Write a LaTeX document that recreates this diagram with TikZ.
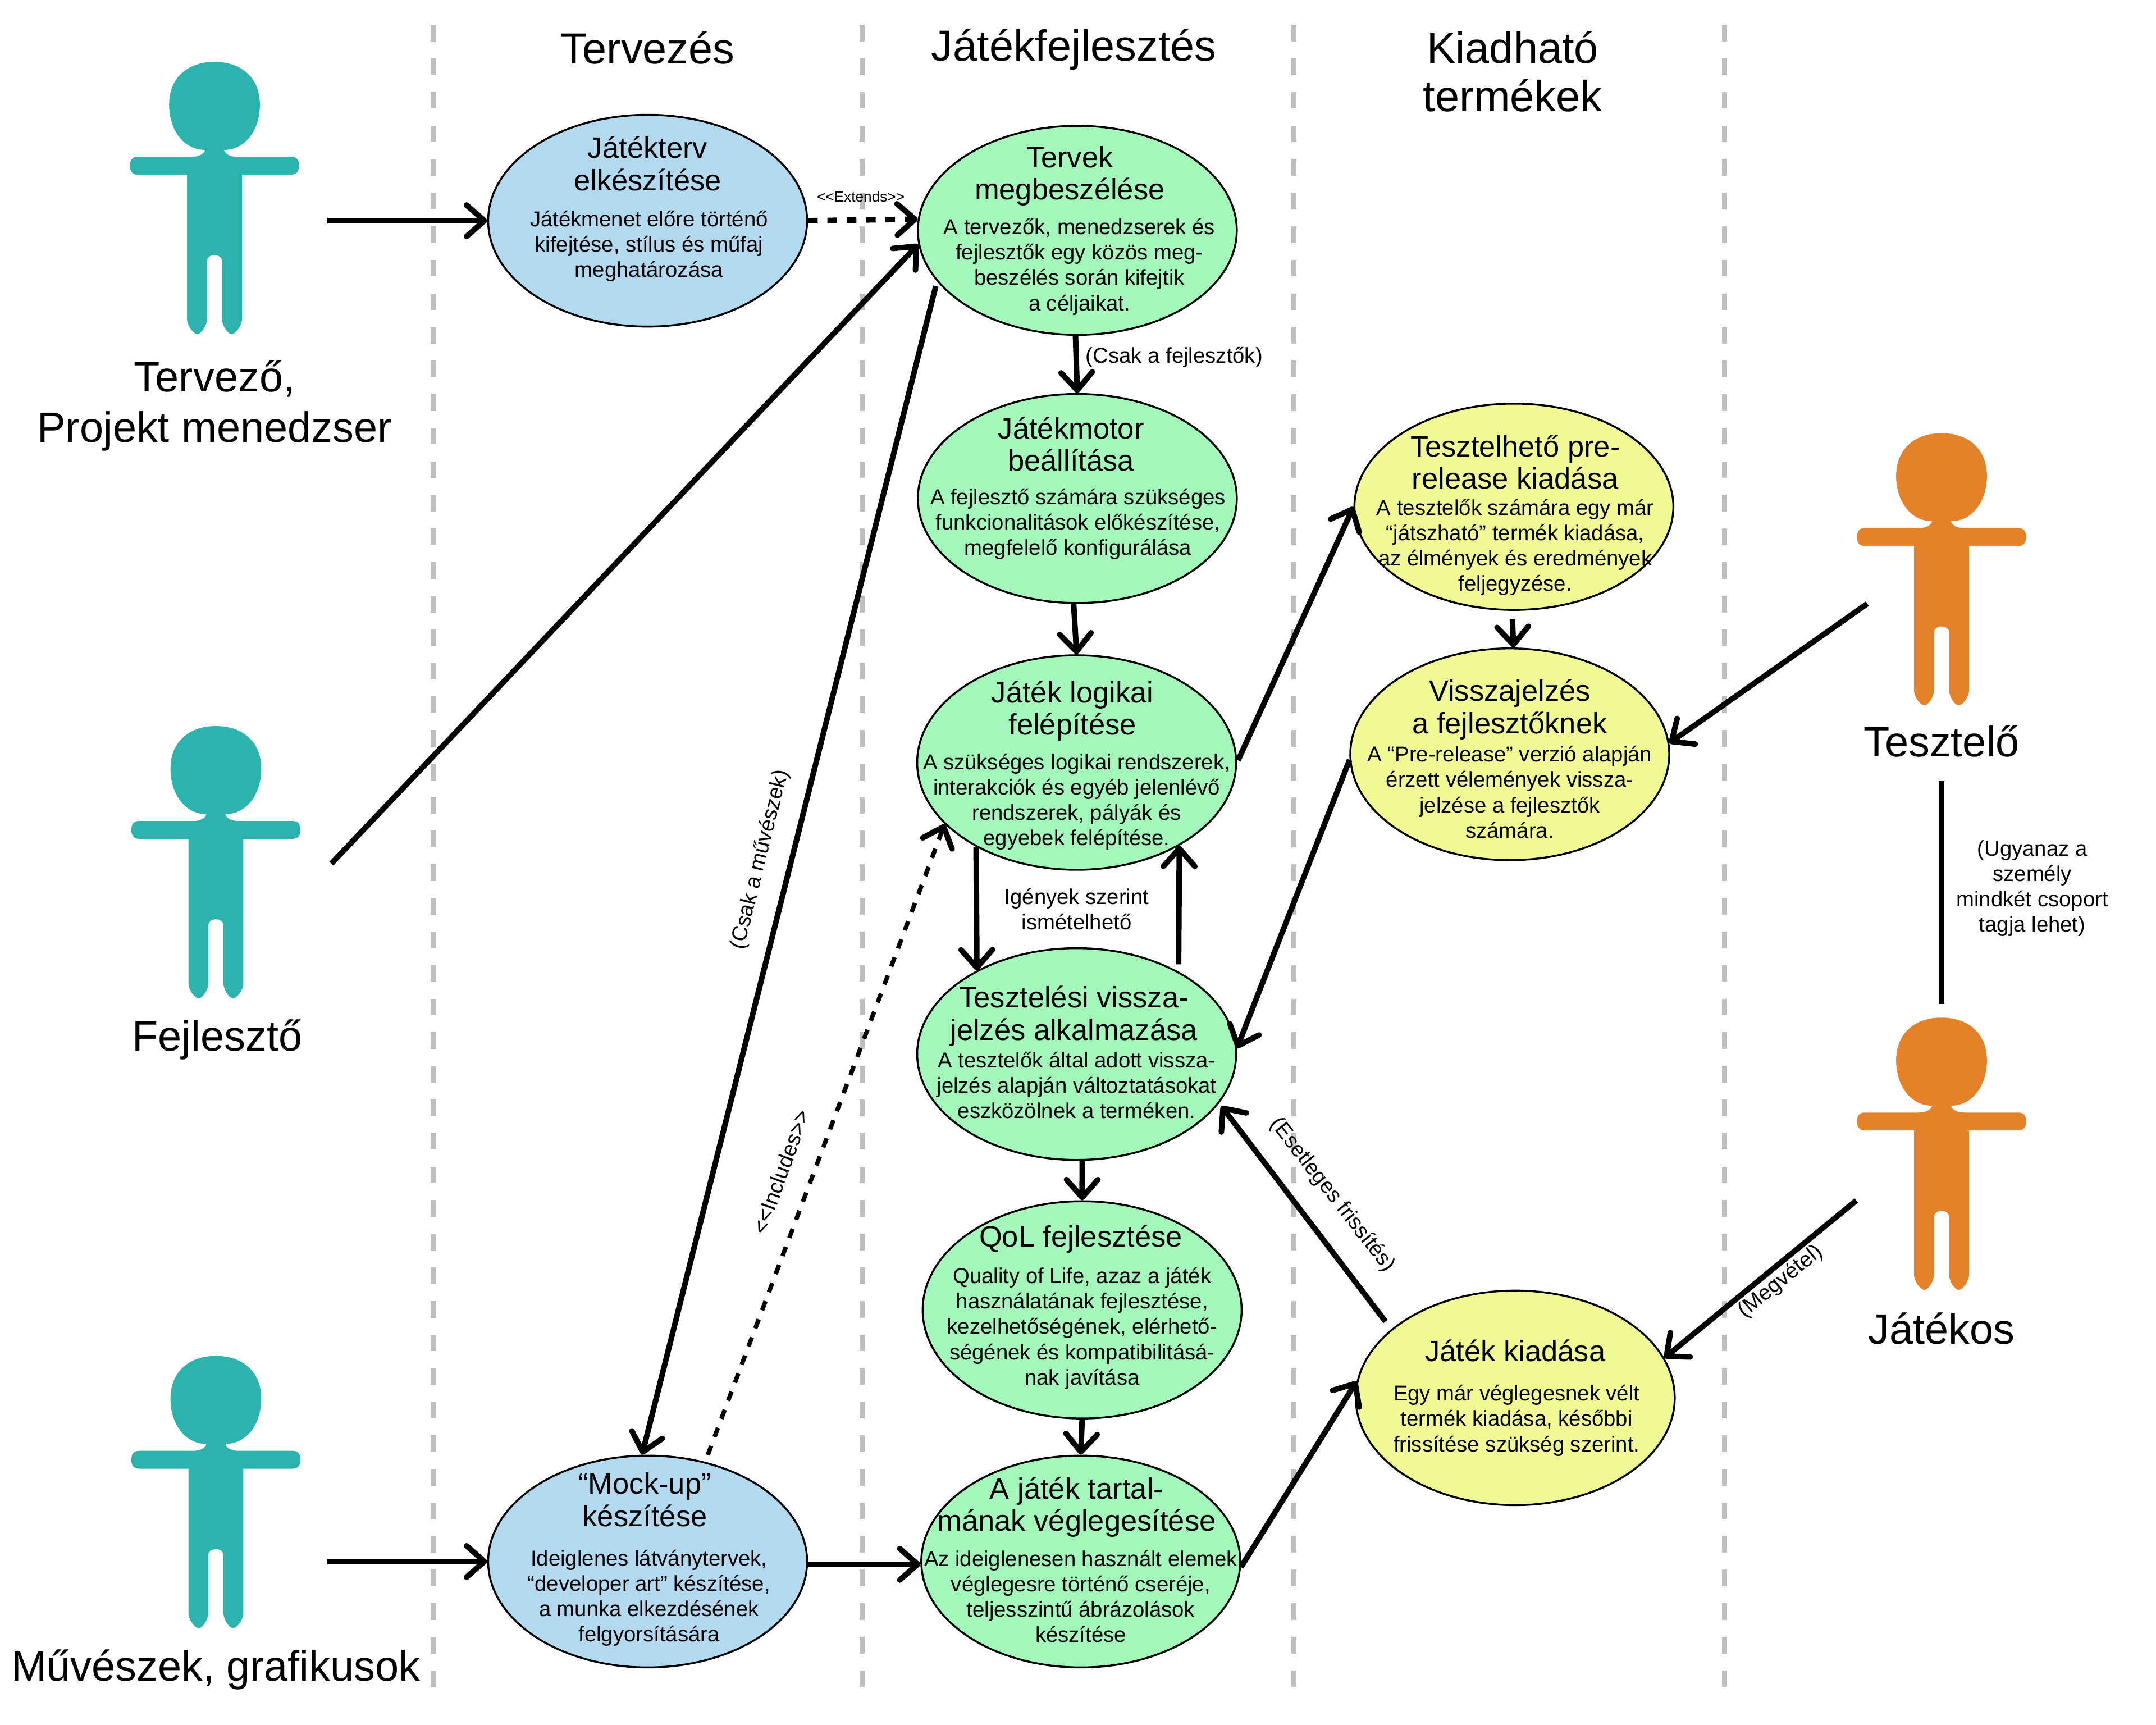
\documentclass[tikz,border=0pt]{standalone}
\usepackage{fontspec}
\setmainfont{Liberation Sans}
\usetikzlibrary{arrows.meta,shapes.geometric}

\definecolor{actorteal}{HTML}{2DB3AD}
\definecolor{actororange}{HTML}{E58128}
\definecolor{ucblue}{HTML}{B3D9EF}
\definecolor{ucgreen}{HTML}{A3F7BB}
\definecolor{ucyellow}{HTML}{F0F994}
\definecolor{lanegray}{HTML}{BFBFBF}

\tikzset{
  usecase/.style={draw=black, line width=0.8pt, ellipse, inner sep=0pt, minimum width=4.64cm, minimum height=#1*0.02cm},
  uctitle/.style={align=center, inner sep=0pt, font=\fontsize{12.2}{13.4}\selectfont},
  ucbody/.style={align=center, inner sep=0pt, font=\fontsize{8.9}{10.5}\selectfont},
  heading/.style={align=center, inner sep=0pt, font=\fontsize{18}{20}\selectfont},
  actorlabel/.style={align=center, inner sep=0pt, font=\fontsize{17.6}{20.8}\selectfont},
  note/.style={align=center, inner sep=0pt, font=\fontsize{8.9}{10.5}\selectfont},
  lane/.style={color=lanegray, line width=2.1pt, dash pattern=on 6.9pt off 7pt},
  conn/.style={line width=2.3pt, -{Straight Barb[round,length=7.4pt,width=13pt,line width=2.3pt]}},
  dconn/.style={conn, dash pattern=on 4pt off 4pt},
  pics/actor/.style={code={
    \fill[#1] (0,0) .. controls (20,0) and (33,12) .. (33,31) .. controls (33,50) and (22,64) .. (7,64)
      .. controls (7,67) and (12,69) .. (16,69) -- (56,69) .. controls (60,69) and (61.5,72) .. (61.5,75.5)
      .. controls (61.5,79) and (60,82) .. (56,82) -- (20,82) -- (20,187)
      .. controls (20,192) and (15,198) .. (12.5,198) .. controls (10,198) and (5.5,192) .. (5.5,187)
      -- (5.5,145) .. controls (5.5,142) and (3,140.5) .. (0,140.5)
      .. controls (-3,140.5) and (-5.5,142) .. (-5.5,145) -- (-5.5,187)
      .. controls (-5.5,192) and (-10,198) .. (-12.5,198) .. controls (-15,198) and (-20,192) .. (-20,187)
      -- (-20,82) -- (-56,82) .. controls (-60,82) and (-61.5,79) .. (-61.5,75.5)
      .. controls (-61.5,72) and (-60,69) .. (-56,69) -- (-16,69) .. controls (-12,69) and (-7,67) .. (-7,64)
      .. controls (-22,64) and (-33,50) .. (-33,31) .. controls (-33,12) and (-20,0) .. (0,0) -- cycle;
  }}
}

\begin{document}
\begin{tikzpicture}[x=0.02cm, y=-0.02cm]
\useasboundingbox (0,0) rectangle (1568,1254);

% lanes
\foreach \lx in {315,627,941,1254}
  \draw[lane] (\lx,18) -- (\lx,1233);

% headings
\node[heading] (tervezes) at (471,35) {Tervezés};
\node[heading] (fejlesztes) at (781,36) {Játékfejlesztés};
\node[heading] (kiadhato) at (1100,52) {Kiadható\\termékek};

% actors
\pic at (156,45) {actor=actorteal};
\pic at (157,528) {actor=actorteal};
\pic at (157,986) {actor=actorteal};
\pic at (1412,315) {actor=actororange};
\pic at (1412,740) {actor=actororange};
\node[actorlabel] (tervezo) at (156,295) {Tervező,\\Projekt menedzser};
\node[actorlabel] (fejleszto) at (158,756) {Fejlesztő};
\node[actorlabel] (muveszek) at (157,1214) {Művészek, grafikusok};
\node[actorlabel] (tesztelo) at (1412,539) {Tesztelő};
\node[actorlabel] (jatekos) at (1412,966) {Játékos};

% use cases
\node[usecase=154, fill=ucblue] (jatekterv) at (471,160.5) {};
\node[usecase=152, fill=ucgreen] (tervek) at (783.5,167.5) {};
\node[usecase=152, fill=ucgreen] (motor) at (783.5,362.5) {};
\node[usecase=156, fill=ucgreen] (logika) at (783,554.5) {};
\node[usecase=154, fill=ucgreen] (visszahat) at (783,766.5) {};
\node[usecase=158, fill=ucgreen] (qol) at (787,952.5) {};
\node[usecase=154, fill=ucgreen] (tartalom) at (786,1135.5) {};
\node[usecase=154, fill=ucblue] (mockup) at (471,1135.5) {};
\node[usecase=150, fill=ucyellow] (prerelease) at (1101,368.5) {};
\node[usecase=154, fill=ucyellow] (visszajelzes) at (1098,548.5) {};
\node[usecase=156, fill=ucyellow] (kiadas) at (1102,1016.5) {};

\node[uctitle] (t1) at (471,119) {Játékterv\\elkészítése};
\node[ucbody] (b1) at (472,179) {Játékmenet előre történő\\kifejtése, stílus és műfaj\\meghatározása};
\node[uctitle] (t2) at (778,128) {Tervek\\megbeszélése};
\node[ucbody] (b2) at (785,194) {A tervezők, menedzserek és\\fejlesztők egy közös meg-\\beszélés során kifejtik\\a céljaikat.};
\node[uctitle] (t3) at (779,323) {Játékmotor\\beállítása};
\node[ucbody] (b3) at (784,381) {A fejlesztő számára szükséges\\funkcionalitások előkészítése,\\megfelelő konfigurálása};
\node[uctitle] (t4) at (780,517) {Játék logikai\\felépítése};
\node[ucbody] (b4) at (783,583) {A szükséges logikai rendszerek,\\interakciók és egyéb jelenlévő\\rendszerek, pályák és\\egyebek felépítése.};
\node[uctitle] (t5) at (781,739) {Tesztelési vissza-\\jelzés alkalmazása};
\node[ucbody] (b5) at (783,789) {A tesztelők által adott vissza-\\jelzés alapján változtatásokat\\eszközölnek a terméken.};
\node[uctitle] (t6) at (786,901) {QoL fejlesztése};
\node[ucbody] (b6) at (787,966) {Quality of Life, azaz a játék\\használatának fejlesztése,\\kezelhetőségének, elérhető-\\ségének és kompatibilitásá-\\nak javítása};
\node[uctitle] (t7) at (783,1096) {A játék tartal-\\mának véglegesítése};
\node[ucbody] (b7) at (786,1161) {Az ideiglenesen használt elemek\\véglegesre történő cseréje,\\teljesszintű ábrázolások\\készítése};
\node[uctitle] (t8) at (469,1090.5) {“Mock-up”\\készítése};
\node[ucbody] (b8) at (472,1162) {Ideiglenes látványtervek,\\“developer art” készítése,\\a munka elkezdésének\\felgyorsítására};
\node[uctitle] (t9) at (1102,336) {Tesztelhető pre-\\release kiadása};
\node[ucbody] (b9) at (1102,398) {A tesztelők számára egy már\\“játszható” termék kiadása,\\az élmények és eredmények\\feljegyzése.};
\node[uctitle] (t10) at (1098,516) {Visszajelzés\\a fejlesztőknek};
\node[ucbody] (b10) at (1098,576) {A “Pre-release” verzió alapján\\érzett vélemények vissza-\\jelzése a fejlesztők\\számára.};
\node[uctitle] (t11) at (1102,982) {Játék kiadása};
\node[ucbody] (b11) at (1103,1033) {Egy már véglegesnek vélt\\termék kiadása, későbbi\\frissítése szükség szerint.};

% free ends at the actors
\coordinate (tervezoA) at (238,160.5);
\coordinate (fejlesztoA) at (241,628);
\coordinate (muveszekA) at (238,1135.5);
\coordinate (teszteloA) at (1358,439);
\coordinate (teszteloB) at (1412,568);
\coordinate (jatekosA) at (1350,873);
\coordinate (jatekosB) at (1412,730);

% connectors
\draw[conn] (tervezoA) -- (jatekterv.west);
\draw[dconn] (jatekterv.east) -- (tervek.176.5);
\draw[conn] (fejlesztoA) -- (tervek.185);
\draw[conn, shorten <=2pt] (tervek.200) -- (mockup.93);
\draw[conn] (tervek.269) -- (motor.north);
\draw[conn] (motor.268) -- (logika.north);
\draw[conn] (logika.220) -- (visszahat.140);
\draw[conn, shorten <=3pt] (visszahat.39) -- (logika.321);
\draw[conn] (visszahat.-87) -- (qol.north);
\draw[conn] (qol.south) -- (tartalom.north);
\draw[conn] (mockup.-1.5) -- (tartalom.181.5);
\draw[conn] (muveszekA) -- (mockup.west);
\draw[dconn, line width=1.8pt, shorten <=3pt] (mockup.60) -- (logika.205);
\draw[conn, shorten <=1pt] (logika.east) -- (prerelease.west);
\draw[conn, shorten <=3.4pt] (prerelease.-91) -- (visszajelzes.88);
\draw[conn] (visszajelzes.182) -- (visszahat.2);
\draw[conn] (teszteloA) -- (visszajelzes.4);
\draw[line width=2.3pt] (teszteloB) -- (jatekosB);
\draw[conn] (jatekosA) -- (kiadas.15);
\draw[conn, shorten <=4pt, shorten >=1.5pt] (kiadas.151) -- (visszahat.-19);
\draw[conn] (tartalom.-2.5) -- (kiadas.174);

% connector labels
\node[note, font=\fontsize{6.1}{7}\selectfont] (extends) at (626,143) {{<}{<}Extends{>}{>}};
\node[note] (csakfejl) at (854,260) {(Csak a fejlesztők)};
\node[note, rotate=76] (csakmuv) at (553,625) {(Csak a művészek)};
\node[note, rotate=70] (includes) at (568,852) {{<}{<}Includes{>}{>}};
\node[note] (igenyek) at (783,661) {Igények szerint\\ismételhető};
\node[note] (ugyanaz) at (1478,646) {(Ugyanaz a\\személy\\mindkét csoport\\tagja lehet)};
\node[note, rotate=39] (megvetel) at (1295,932) {(Megvétel)};
\node[note, rotate=-52] (frissites) at (969,869) {(Esetleges frissítés)};
\end{tikzpicture}
\end{document}
